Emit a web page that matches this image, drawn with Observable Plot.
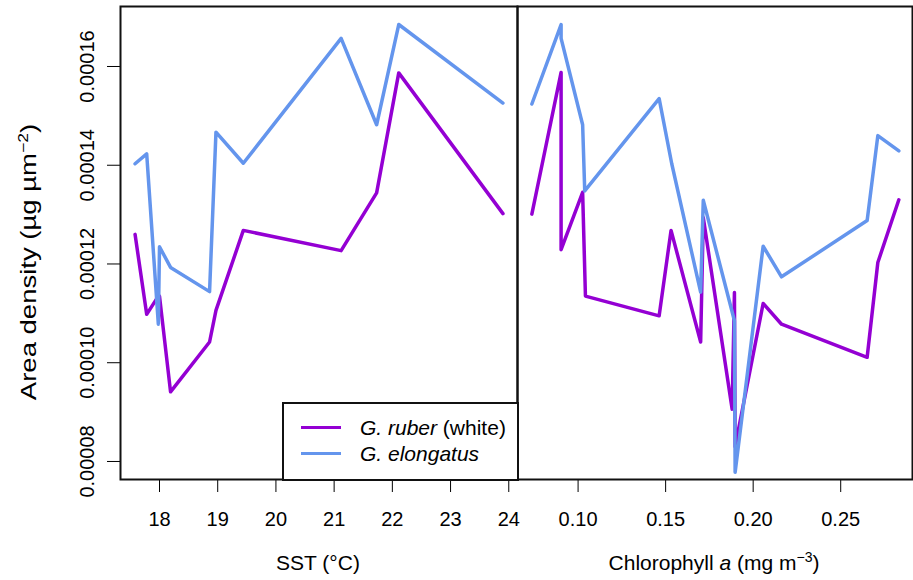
<!DOCTYPE html>
<html><head><meta charset="utf-8">
<script src="https://cdn.jsdelivr.net/npm/d3@7"></script>
<script src="https://cdn.jsdelivr.net/npm/@observablehq/plot@0.6"></script>
<style>
body{margin:0;background:#fff;}
#wrap{position:relative;width:913px;height:580px;font-family:"Liberation Sans",Arial,sans-serif;color:#000;overflow:hidden;background:#fff}
#wrap svg{position:absolute;top:0;overflow:visible}
.lbl{position:absolute;white-space:nowrap;font-size:21px;line-height:21px}
.sup{font-size:14px;position:relative;top:-8px}
#legend{position:absolute;left:282px;top:402px;width:233px;height:75px;border:2px solid #111;background:#fff}
.lg{position:absolute;left:17px;width:40px;height:0;border-top:3.4px solid}
.lt{position:absolute;left:76px;font-size:21px;line-height:21px;white-space:nowrap}
</style></head><body><div id="wrap"></div>
<script>
// ---- data ----
const seriesNames = ["G. ruber (white)", "G. elongatus"];
const seriesColors = ["#9400D3", "#6495ED"];

// SST panel (°C)
const sstX      = [17.58, 17.78, 17.98, 18.00, 18.19, 18.86, 18.97, 19.44, 21.12, 21.73, 22.11, 23.90];
const sstRuber  = [0.0001260, 0.0001098, 0.0001135, 0.0001135, 0.0000941, 0.0001042, 0.0001106, 0.0001268, 0.0001227, 0.0001344, 0.0001587, 0.0001302];
const sstElong  = [0.0001403, 0.0001423, 0.0001078, 0.0001235, 0.0001193, 0.0001144, 0.0001467, 0.0001404, 0.0001657, 0.0001482, 0.0001685, 0.0001526];

// Chlorophyll a panel (mg m^-3)
const chlRuberX = [0.0736, 0.0903, 0.0903, 0.1026, 0.1042, 0.1463, 0.1531, 0.1700, 0.1715, 0.1880, 0.1893, 0.1897, 0.2057, 0.2162, 0.2651, 0.2712, 0.2832];
const chlRuber  = [0.0001301, 0.0001588, 0.0001229, 0.0001345, 0.0001135, 0.0001095, 0.0001268, 0.0001042, 0.0001294, 0.0000906, 0.0001142, 0.0000830, 0.0001120, 0.0001078, 0.0001011, 0.0001203, 0.0001330];
const chlElongX = [0.0736, 0.0903, 0.0903, 0.1026, 0.1038, 0.1463, 0.1535, 0.1700, 0.1715, 0.1893, 0.1897, 0.2057, 0.2162, 0.2651, 0.2712, 0.2832];
const chlElong  = [0.0001524, 0.0001685, 0.0001657, 0.0001482, 0.0001348, 0.0001535, 0.0001403, 0.0001143, 0.0001329, 0.0001085, 0.0000778, 0.0001236, 0.0001174, 0.0001288, 0.0001460, 0.0001429];

// ticks
const yTicks = [0.00008, 0.00010, 0.00012, 0.00014, 0.00016];
const yTickLabels = ["0.00008", "0.00010", "0.00012", "0.00014", "0.00016"];
const sstTicks = [18, 19, 20, 21, 22, 23, 24];
const sstTickLabels = ["18", "19", "20", "21", "22", "23", "24"];
const chlTicks = [0.10, 0.15, 0.20, 0.25];
const chlTickLabels = ["0.10", "0.15", "0.20", "0.25"];

// ---- layout ----
const FONT = "Liberation Sans, Arial, sans-serif";
const common = {
  height: 580, marginTop: 6, marginBottom: 101,
  y: {domain: [0.00007635, 0.00017215], axis: null},
  style: {fontFamily: FONT, fontSize: "20px", color: "#000", background: "transparent", overflow: "visible"}
};
const lineOpts = {strokeWidth: 3.5, strokeLinejoin: "round", strokeLinecap: "round"};

const left = Plot.plot({
  ...common, width: 518, marginLeft: 120, marginRight: 1,
  x: {domain: [17.33, 24.15]},
  marks: [
    Plot.axisX(sstTicks, {tickSize: 13, tickPadding: 19, label: null, tickFormat: (d) => sstTickLabels[sstTicks.indexOf(d)], fontSize: 20}),
    Plot.axisY(yTicks, {tickSize: 13, label: null, tickFormat: () => ""}),
    Plot.text(yTicks, {y: (d) => d, text: (d, i) => yTickLabels[i], frameAnchor: "left", dx: -27, rotate: -90, lineAnchor: "bottom", textAnchor: "middle", fontSize: 20}),
    Plot.line(sstX, {x: sstX, y: sstRuber, stroke: seriesColors[0], ...lineOpts}),
    Plot.line(sstX, {x: sstX, y: sstElong, stroke: seriesColors[1], ...lineOpts}),
    Plot.frame({stroke: "#111", strokeWidth: 2})
  ]
});
left.style.left = "0px";

const right = Plot.plot({
  ...common, width: 397, marginLeft: 1, marginRight: 1,
  x: {domain: [0.0654, 0.291]},
  marks: [
    Plot.axisX(chlTicks, {tickSize: 13, tickPadding: 19, label: null, tickFormat: (d) => chlTickLabels[chlTicks.indexOf(d)], fontSize: 20}),
    Plot.line(chlRuberX, {x: chlRuberX, y: chlRuber, stroke: seriesColors[0], ...lineOpts}),
    Plot.line(chlElongX, {x: chlElongX, y: chlElong, stroke: seriesColors[1], ...lineOpts}),
    Plot.frame({stroke: "#111", strokeWidth: 2})
  ]
});
right.style.left = "516px";

const wrap = document.getElementById("wrap");
wrap.appendChild(left);
wrap.appendChild(right);

// axis titles
function addLabel(html, css) {
  const d = document.createElement("div");
  d.className = "lbl";
  d.innerHTML = html;
  Object.assign(d.style, css);
  wrap.appendChild(d);
  return d;
}
addLabel("SST (°C)", {left: "318px", top: "552px", transform: "translateX(-50%)"});
addLabel("Chlorophyll <i>a</i> (mg m<span class='sup'>−3</span>)", {left: "714px", top: "552px", transform: "translateX(-50%)"});
addLabel("Area density (µg µm<span class='sup'>−2</span>)", {left: "30px", top: "262px", fontSize: "22px", transform: "translate(-50%,-50%) rotate(-90deg) scaleX(1.25)"});

// legend
const lg = document.createElement("div");
lg.id = "legend";
seriesNames.forEach((n, i) => {
  const l = document.createElement("div");
  l.className = "lg";
  l.style.borderTopColor = seriesColors[i];
  l.style.top = (i === 0 ? 22 : 48) + "px";
  lg.appendChild(l);
  const t = document.createElement("div");
  t.className = "lt";
  t.style.top = (i === 0 ? 13 : 39) + "px";
  t.innerHTML = i === 0 ? "<i>G. ruber</i> (white)" : "<i>G. elongatus</i>";
  lg.appendChild(t);
});
wrap.appendChild(lg);
</script>
</body></html>
